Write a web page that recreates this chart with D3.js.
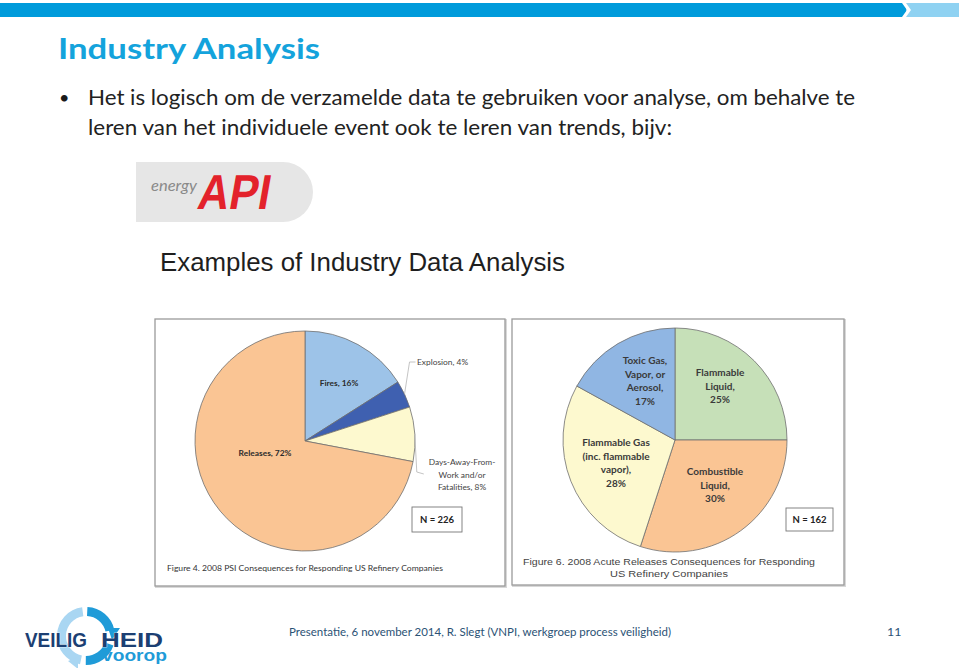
<!DOCTYPE html>
<html><head><meta charset="utf-8">
<script src="https://cdn.jsdelivr.net/npm/d3@7"></script>
<style>body{margin:0;background:#fff}svg{display:block}</style>
</head><body>
<svg id="c" width="959" height="668"></svg>
<script>
// ---- data ----
const leftCategories = ["Fires", "Explosion", "Days-Away-From-Work and/or Fatalities", "Releases"];
const leftValues = [16, 4, 8, 72];
const leftLabels = [["Fires, 16%"], ["Explosion, 4%"], ["Days-Away-From-", "Work and/or", "Fatalities, 8%"], ["Releases, 72%"]];
const leftN = "N = 226";
const leftCaption = "Figure 4.  2008 PSI Consequences for Responding US Refinery Companies";

const rightCategories = ["Flammable Liquid", "Combustible Liquid", "Flammable Gas (inc. flammable vapor)", "Toxic Gas, Vapor, or Aerosol"];
const rightValues = [25, 30, 28, 17];
const rightLabels = [["Flammable", "Liquid,", "25%"], ["Combustible", "Liquid,", "30%"], ["Flammable Gas", "(inc. flammable", "vapor),", "28%"], ["Toxic Gas,", "Vapor, or", "Aerosol,", "17%"]];
const rightN = "N = 162";
const rightCaption = ["Figure 6.  2008 Acute Releases Consequences for Responding", "US Refinery Companies"];

const titleText = "Industry Analysis";
const bulletLines = ["Het is logisch om de verzamelde data te gebruiken voor analyse, om behalve te", "leren van het individuele event ook te leren van trends, bijv:"];
const headingText = "Examples of Industry Data Analysis";
const footerText = "Presentatie, 6 november 2014, R. Slegt (VNPI, werkgroep process veiligheid)";
const pageNumber = "11";

// ---- styles / layout ----
const leftColors = ["#9dc3e8", "#3f60b0", "#fdf9cf", "#fac594"];
const rightColors = ["#c6e0b8", "#fac594", "#fdf9cf", "#90b6e3"];
const svg = d3.select("#c");
const sans = "Lato, 'Open Sans', sans-serif";
const arialF = "'Liberation Sans', Arial, sans-serif";

// top bar
svg.append("rect").attr("x", 0).attr("y", 3).attr("width", 906).attr("height", 14).attr("fill", "#009bdb");
svg.append("rect").attr("x", 906).attr("y", 3).attr("width", 53).attr("height", 14).attr("fill", "#8fd2f2");
svg.append("path").attr("d", "M902,3 L906,3 L911,10 L906,17 L902,17 L907,10 Z").attr("fill", "#fff");

// title
svg.append("text").attr("x", 58).attr("y", 59).attr("fill", "#14a3dc")
  .attr("font-family", sans).attr("font-weight", 700).attr("font-size", 29)
  .attr("textLength", 262).attr("lengthAdjust", "spacingAndGlyphs").text(titleText);

// bullet
svg.append("text").attr("x", 59).attr("y", 104).attr("fill", "#1a1a1a").attr("font-family", sans).attr("font-size", 18).text("•");
const bulletW = [767, 584];
bulletLines.forEach((l, i) => {
  svg.append("text").attr("x", 88).attr("y", 105 + i * 30).attr("fill", "#222")
    .attr("font-family", sans).attr("font-weight", 400).attr("font-size", 21)
    .attr("textLength", bulletW[i]).attr("lengthAdjust", "spacingAndGlyphs").text(l);
});

// API logo
svg.append("path").attr("d", "M136,162 L283,162 A30,30 0 0 1 283,222 L136,222 Z").attr("fill", "#e6e6e6");
svg.append("text").attr("x", 151).attr("y", 191).attr("fill", "#8a8a8a").attr("font-family", sans)
  .attr("font-style", "italic").attr("font-size", 14.5).attr("textLength", 46).attr("lengthAdjust", "spacingAndGlyphs").text("energy");
svg.append("g").attr("transform", "translate(196,209) skewX(-10)")
  .append("text").attr("x", 0).attr("y", 0).attr("fill", "#e3222b").attr("font-family", arialF)
  .attr("font-weight", 700).attr("font-size", 49)
  .attr("textLength", 72).attr("lengthAdjust", "spacingAndGlyphs").text("API");

// heading
svg.append("text").attr("x", 160).attr("y", 271).attr("fill", "#1e1e1e").attr("font-family", arialF)
  .attr("font-size", 26).attr("textLength", 405).attr("lengthAdjust", "spacingAndGlyphs").text(headingText);

// panels
function panel(x, y, w, h) {
  svg.append("rect").attr("x", x + 1).attr("y", y + 1).attr("width", w).attr("height", h).attr("fill", "none").attr("stroke", "#d8d8d8").attr("stroke-width", 2);
  svg.append("rect").attr("x", x).attr("y", y).attr("width", w).attr("height", h).attr("fill", "#fff").attr("stroke", "#9a9a9a").attr("stroke-width", 1.3);
}
panel(155, 319, 350, 267);
panel(512, 319, 332, 266);

function drawPie(cx, cy, r, values, colors) {
  const pie = d3.pie().sort(null).startAngle(0).endAngle(2 * Math.PI)(values);
  const arc = d3.arc().innerRadius(0).outerRadius(r);
  const g = svg.append("g").attr("transform", `translate(${cx},${cy})`);
  g.selectAll("path").data(pie).join("path").attr("d", arc)
    .attr("fill", (d, i) => colors[i]).attr("stroke", "#6f6f6f").attr("stroke-width", 0.8);
  return { g, pie, arc };
}

// left pie
const L = { cx: 305, cy: 441, r: 110 };
const lp = drawPie(L.cx, L.cy, L.r, leftValues, leftColors);
const polar = (a, rr) => [Math.sin(a) * rr, -Math.cos(a) * rr];
const mid = d => (d.startAngle + d.endAngle) / 2;
// leader lines
{
  const e = lp.pie[1]; const [x0, y0] = polar(mid(e), L.r);
  lp.g.append("polyline").attr("points", `${x0},${y0} ${x0 + 5},${-79} ${x0 + 11},${-79}`)
    .attr("fill", "none").attr("stroke", "#b5b5b5").attr("stroke-width", 0.8);
  const d2 = lp.pie[2]; const [x1, y1] = polar(mid(d2), L.r);
  lp.g.append("polyline").attr("points", `${x1},${y1} ${x1 + 2},${31} ${x1 + 9},${33}`)
    .attr("fill", "none").attr("stroke", "#b5b5b5").attr("stroke-width", 0.8);
}
const leftLabelPos = [
  { dx: 34, dy: -55, anchor: "middle", bold: true },
  { dx: 112, dy: -76, anchor: "start", bold: false },
  { dx: 157, dy: 24, anchor: "middle", bold: false },
  { dx: -40, dy: 15, anchor: "middle", bold: true }
];
leftLabels.forEach((lines, i) => {
  const p = leftLabelPos[i];
  lines.forEach((t, j) => {
    lp.g.append("text").attr("x", p.dx).attr("y", p.dy + j * 12.5).attr("text-anchor", p.anchor)
      .attr("font-family", sans).attr("font-size", 8.4).attr("font-weight", p.bold ? 700 : 400)
      .attr("fill", p.bold ? "#2b2b2b" : "#444").text(t);
  });
});
// N box left
svg.append("rect").attr("x", 412).attr("y", 507).attr("width", 50).attr("height", 25).attr("fill", "#fff").attr("stroke", "#777").attr("stroke-width", 0.9);
svg.append("text").attr("x", 437).attr("y", 523).attr("text-anchor", "middle").attr("font-family", sans)
  .attr("font-weight", 700).attr("font-size", 9.5).attr("fill", "#222").text(leftN);
svg.append("text").attr("x", 167).attr("y", 571).attr("font-family", sans).attr("font-size", 8)
  .attr("fill", "#333").attr("textLength", 276).attr("lengthAdjust", "spacingAndGlyphs").text(leftCaption);

// right pie
const R = { cx: 675, cy: 440, r: 112 };
const rp = drawPie(R.cx, R.cy, R.r, rightValues, rightColors);
const rightLabelPos = [
  { dx: 45, dy: -64 },
  { dx: 40, dy: 35 },
  { dx: -59, dy: 6 },
  { dx: -30, dy: -76 }
];
rightLabels.forEach((lines, i) => {
  const p = rightLabelPos[i];
  lines.forEach((t, j) => {
    rp.g.append("text").attr("x", p.dx).attr("y", p.dy + j * 13.6).attr("text-anchor", "middle")
      .attr("font-family", sans).attr("font-size", 10).attr("font-weight", 700)
      .attr("fill", "#3a3a3a").text(t);
  });
});
svg.append("rect").attr("x", 786).attr("y", 508).attr("width", 47).attr("height", 23).attr("fill", "#fff").attr("stroke", "#777").attr("stroke-width", 0.9);
svg.append("text").attr("x", 809.5).attr("y", 523).attr("text-anchor", "middle").attr("font-family", sans)
  .attr("font-weight", 700).attr("font-size", 9.5).attr("fill", "#222").text(rightN);
const capW = [292, 118];
rightCaption.forEach((t, i) => {
  svg.append("text").attr("x", 669).attr("y", 565 + i * 12).attr("text-anchor", "middle").attr("font-family", arialF)
    .attr("font-size", 9.6).attr("fill", "#444").attr("textLength", capW[i]).attr("lengthAdjust", "spacingAndGlyphs").text(t);
});

// footer logo
{
  const g = svg.append("g").attr("transform", "translate(86,636)");
  const ring = d3.arc().innerRadius(20).outerRadius(29);
  g.append("path").attr("d", ring({ startAngle: 3.35, endAngle: 6.15 })).attr("fill", "#a9d6f2");
  g.append("path").attr("d", ring({ startAngle: 0.05, endAngle: 1.35 })).attr("fill", "#1f9bd8");
  g.append("path").attr("d", ring({ startAngle: 1.9, endAngle: 3.15 })).attr("fill", "#1f9bd8");
  g.append("path").attr("d", "M22,-8 L34,-8 L26,4 Z").attr("fill", "#1f9bd8");
  g.append("path").attr("d", "M-8,21 L-8,33 L-18,25 Z").attr("fill", "#a9d6f2");
  svg.append("text").attr("x", 25).attr("y", 647).attr("font-family", arialF).attr("font-weight", 700)
    .attr("font-size", 21).attr("fill", "#1c3f73").attr("stroke", "#fff").attr("stroke-width", 0.6).attr("paint-order", "stroke")
    .attr("textLength", 62).attr("lengthAdjust", "spacingAndGlyphs").text("VEILIG");
  svg.append("text").attr("x", 101).attr("y", 647).attr("font-family", arialF).attr("font-weight", 700)
    .attr("font-size", 21).attr("fill", "#1c3f73").attr("stroke", "#fff").attr("stroke-width", 0.6).attr("paint-order", "stroke")
    .attr("textLength", 62).attr("lengthAdjust", "spacingAndGlyphs").text("HEID");
  svg.append("text").attr("x", 102).attr("y", 661).attr("font-family", arialF).attr("font-weight", 700)
    .attr("font-size", 17).attr("fill", "#1f9bd8")
    .attr("textLength", 65).attr("lengthAdjust", "spacingAndGlyphs").text("voorop");
}
svg.append("text").attr("x", 289).attr("y", 636).attr("font-family", sans).attr("font-size", 12.3)
  .attr("fill", "#2b5275").attr("textLength", 382).attr("lengthAdjust", "spacingAndGlyphs").text(footerText);
svg.append("text").attr("x", 887).attr("y", 636).attr("font-family", sans).attr("font-size", 12.3)
  .attr("fill", "#2b5275").text(pageNumber);
</script>
</body></html>
